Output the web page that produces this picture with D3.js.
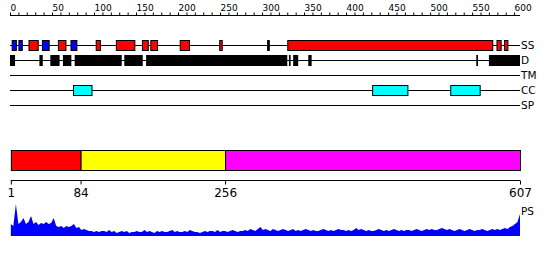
<!DOCTYPE html>
<html>
<head>
<meta charset="utf-8">
<script src="https://cdn.jsdelivr.net/npm/d3@7"></script>
<style>
  body { margin: 0; background: #fff; }
  svg { display: block; font-family: "DejaVu Sans", sans-serif; }
</style>
</head>
<body>
<div id="chart"></div>
<script>
// ── data ─────────────────────────────────────────────
const SEQ_LEN = 607;

// secondary structure: [start, end, type]  (H = helix, E = strand, O = other)
const ssFeatures = [
  [2, 7, "E"], [10, 14, "E"], [22, 33, "H"], [38, 46, "E"], [57, 66, "H"],
  [72, 79, "E"], [102, 107, "H"], [126, 148, "H"], [157, 164, "H"],
  [167, 175, "H"], [202, 213, "H"], [249, 252, "H"], [306, 308, "O"],
  [330, 574, "H"], [579, 584, "H"], [588, 592, "H"]
];

// disorder
const disFeatures = [
  [0, 6], [35, 39], [48, 59], [63, 73], [77, 133], [136, 158], [162, 330],
  [332, 334], [337, 343], [355, 359], [555, 557], [570, 607]
];

// coiled coil
const ccFeatures = [[75, 97], [431, 473], [524, 559]];

// domain bar segments
const segStarts = [1, 84, 256];
const segEnds   = [84, 256, 607];
const segColors = ["#ff0000", "#ffff00", "#ff00ff"];
const boundaryTicks = [1, 84, 256, 607];

// PS profile, one value every 3 residues starting at residue 1
const psValues = [
  12, 10, 32, 12, 14, 18, 12, 14, 20, 12, 14, 11, 13, 12, 14, 12, 13, 18, 10, 9,
  10, 8, 10, 9, 10, 12, 8, 9, 6, 7, 6, 5, 5, 4, 5, 4, 5, 5, 4, 6,
  4, 5, 3, 4, 5, 4, 5, 3, 4, 4, 5, 4, 4, 6, 4, 5, 4, 3, 5, 4,
  5, 4, 4, 5, 6, 4, 5, 4, 4, 5, 4, 6, 5, 4, 4, 3, 4, 5, 4, 5,
  5, 4, 6, 4, 5, 5, 4, 5, 6, 5, 4, 5, 5, 6, 5, 7, 6, 5, 7, 9,
  6, 7, 6, 5, 7, 6, 5, 6, 7, 6, 5, 6, 7, 5, 6, 5, 6, 7, 6, 5,
  6, 5, 5, 6, 7, 6, 5, 6, 5, 6, 7, 6, 6, 5, 6, 5, 6, 8, 6, 7,
  6, 5, 6, 5, 5, 6, 7, 6, 5, 6, 5, 6, 7, 6, 5, 6, 5, 6, 6, 5,
  6, 7, 6, 5, 6, 7, 6, 7, 6, 6, 7, 8, 7, 6, 7, 6, 5, 6, 7, 6,
  5, 6, 7, 6, 5, 6, 6, 7, 6, 5, 6, 7, 6, 7, 6, 7, 8, 7, 9, 10,
  12, 14, 22
];

const topTicks = d3.range(0, 601, 10);
const rowNames = ["SS", "D", "TM", "CC", "SP"];

// ── layout ───────────────────────────────────────────
const W = 550, H = 260;
const svg = d3.select("#chart").append("svg")
  .attr("width", W).attr("height", H);

const x = d3.scaleLinear().domain([0, SEQ_LEN]).range([10, 520]);
const rowY = d3.scalePoint().domain(rowNames).range([45, 105]);

const ssColor = { H: "#ff0000", E: "#0000ff", O: "#000000" };

// top ruler (labels start at the tick)
svg.append("g")
  .attr("transform", "translate(0,15.5)")
  .call(d3.axisTop(x)
    .tickValues(topTicks)
    .tickSize(3)
    .tickSizeOuter(0)
    .tickFormat(d => d % 50 === 0 ? d : ""))
  .call(g => g.select(".domain").attr("d", `M${x(0)},0H${x(SEQ_LEN)}`))
  .call(g => g.selectAll("text")
    .attr("font-size", 9).attr("font-family", "DejaVu Sans")
    .attr("text-anchor", "start").attr("x", 0).attr("y", -5))
  .call(g => g.selectAll("line,path").attr("stroke", "#000"));

// track base lines + labels
rowNames.forEach(name => {
  const y = rowY(name);
  svg.append("line")
    .attr("x1", x(0)).attr("x2", x(SEQ_LEN))
    .attr("y1", y + 0.5).attr("y2", y + 0.5)
    .attr("stroke", "#000");
  svg.append("text")
    .attr("x", x(SEQ_LEN) + 1).attr("y", y + 4)
    .attr("font-size", 10.5)
    .text(name);
});

// SS boxes
svg.append("g").selectAll("rect")
  .data(ssFeatures)
  .join("rect")
  .attr("x", d => x(d[0]) + 0.5)
  .attr("width", d => x(d[1]) - x(d[0]))
  .attr("y", rowY("SS") - 4.5)
  .attr("height", 10)
  .attr("fill", d => ssColor[d[2]])
  .attr("stroke", "#000");

// disorder boxes
svg.append("g").selectAll("rect")
  .data(disFeatures)
  .join("rect")
  .attr("x", d => x(d[0]))
  .attr("width", d => x(d[1]) - x(d[0]))
  .attr("y", rowY("D") - 5)
  .attr("height", 11)
  .attr("fill", "#000");

// coiled coil boxes
svg.append("g").selectAll("rect")
  .data(ccFeatures)
  .join("rect")
  .attr("x", d => x(d[0]) + 0.5)
  .attr("width", d => x(d[1]) - x(d[0]))
  .attr("y", rowY("CC") - 4.5)
  .attr("height", 10)
  .attr("fill", "#00ffff")
  .attr("stroke", "#000");

// domain bar
svg.append("g").selectAll("rect")
  .data(segStarts)
  .join("rect")
  .attr("x", d => x(d) + 0.5)
  .attr("width", (d, i) => x(segEnds[i]) - x(d))
  .attr("y", 150.5)
  .attr("height", 20)
  .attr("fill", (d, i) => segColors[i])
  .attr("stroke", "#000");

// boundary axis
svg.append("g")
  .attr("transform", "translate(0,180.5)")
  .call(d3.axisBottom(x)
    .tickValues(boundaryTicks)
    .tickSize(4)
    .tickSizeOuter(0))
  .call(g => g.select(".domain").attr("d", `M${x(1)},0H${x(SEQ_LEN)}`))
  .call(g => g.selectAll("text")
    .attr("font-size", 12).attr("font-family", "DejaVu Sans").attr("y", 8))
  .call(g => g.selectAll("line,path").attr("stroke", "#000"));

// PS profile
const psY = d3.scaleLinear().domain([0, 33]).range([236, 203]);
svg.append("path")
  .datum(psValues)
  .attr("fill", "#0000ff")
  .attr("d", d3.area()
    .x((d, i) => x(Math.min(1 + i * 3, SEQ_LEN)))
    .y0(psY(0))
    .y1(d => psY(d)));

svg.append("text")
  .attr("x", x(SEQ_LEN) + 1).attr("y", 215)
  .attr("font-size", 10.5)
  .text("PS");
</script>
</body>
</html>
